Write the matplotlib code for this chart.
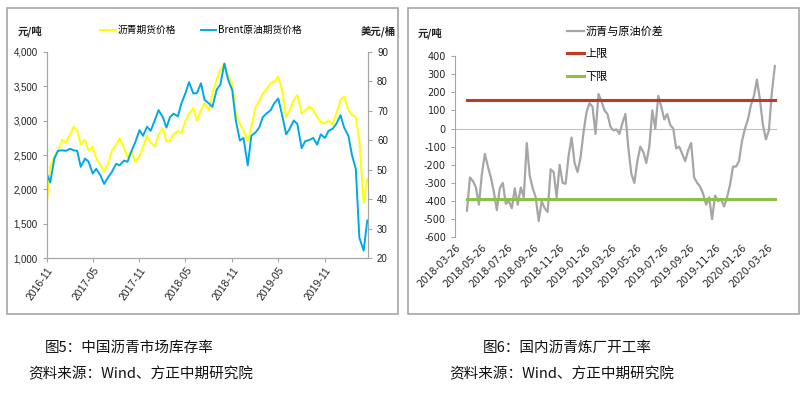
import pandas as pd
import numpy as np
import matplotlib
matplotlib.use('Agg')
import matplotlib.pyplot as plt
from matplotlib.patches import Rectangle

plt.rcParams['font.family'] = ['Noto Sans CJK SC', 'DejaVu Sans']
plt.rcParams['axes.unicode_minus'] = False

#### left chart data: semi-monthly, from 2016-11
asphalt_price = [1780, 2330, 2480, 2550, 2720, 2680, 2800, 2910, 2850, 2650,
                 2720, 2560, 2620, 2450, 2350, 2260, 2380, 2560, 2650, 2740,
                 2600, 2470, 2560, 2400, 2480, 2620, 2780, 2680, 2620, 2800,
                 2880, 2700, 2700, 2800, 2850, 2820, 3000, 3100, 3180, 3000,
                 3150, 3250, 3150, 3390, 3600, 3730, 3830, 3650, 3540, 3100,
                 2950, 2860, 2700, 2900, 3200, 3280, 3390, 3450, 3540, 3560,
                 3640, 3450, 3050, 3150, 3300, 3370, 3100, 3150, 3200, 3150,
                 3050, 2980, 2960, 3000, 2950, 3100, 3300, 3350, 3150, 3080,
                 3050, 2700, 1800, 2150]
brent_price = [48.7, 45.7, 53.8, 56.4, 56.6, 56.4, 57.1, 56.6, 56.4, 51.0,
               53.8, 52.7, 48.7, 50.3, 48.0, 45.2, 47.5, 49.2, 52.0, 51.5,
               53.1, 52.7, 56.4, 59.2, 63.4, 61.5, 64.6, 63.2, 66.9, 70.2,
               67.8, 64.3, 67.8, 69.0, 68.1, 72.5, 76.0, 79.7, 75.8, 76.0,
               79.3, 73.7, 72.5, 71.3, 77.2, 78.8, 86.0, 80.7, 76.9, 66.7,
               59.9, 60.8, 51.5, 61.5, 62.7, 64.3, 67.8, 69.0, 70.2, 72.5,
               74.1, 69.0, 62.0, 63.9, 66.7, 65.5, 57.3, 59.7, 60.1, 60.8,
               58.5, 62.0, 60.8, 63.2, 63.9, 65.5, 68.5, 64.3, 61.5, 55.0,
               50.3, 27.0, 22.6, 32.8]
left_dates = pd.date_range('2016-11-01', periods=len(asphalt_price), freq='SMS')
left_ticks = ['2016-11', '2017-05', '2017-11', '2018-05', '2018-11', '2019-05', '2019-11']

#### right chart data: weekly spread, from 2018-04-23
spread = [-453, -270, -290, -325, -420, -250, -140, -210, -270, -350,
          -450, -330, -300, -416, -400, -440, -330, -420, -325, -380,
          -80, -260, -330, -380, -510, -400, -440, -460, -225, -240,
          -380, -200, -300, -305, -150, -50, -190, -240, -160, -20,
          90, 140, 120, -30, 190,
          150, 100, 80, 10, -10, -5, -30, 30, 80, -110,
          -250, -300, -180, -100, -130, -190, -100, 100, 0, 180,
          120, 50, 80, 20, 0, -110, -100, -140, -180, -120,
          -80, -270, -300, -320, -360, -420, -380, -500, -370, -400,
          -390, -430, -380, -310, -210, -210, -180, -70, 0, 50,
          130, 180, 270, 160, 20, -60, -10, 200, 345]
spread_dates = pd.date_range('2018-04-23', periods=len(spread), freq='7D')
upper_limit = 160
lower_limit = -390
right_ticks = pd.date_range('2018-03-01', '2020-03-01', freq='2MS') + pd.Timedelta(days=25)

fig = plt.figure(figsize=(8.1, 3.94), dpi=100)

# panel frames
for x0, x1 in [(7, 398), (408, 799)]:
    fig.patches.append(Rectangle((x0 / 810, 1 - 314 / 394), (x1 - x0) / 810, (314 - 8) / 394,
                                 transform=fig.transFigure, fill=False,
                                 edgecolor='#A6A6A6', linewidth=1.2))

tick_font = dict(family='Liberation Sans', size=7)

#### left chart
ax = fig.add_axes([46.7 / 810, 1 - 258.3 / 394, (368 - 46.7) / 810, (258.3 - 51.7) / 394])
ax2 = ax.twinx()
l1, = ax.plot(left_dates, asphalt_price, color='#FFFF00', lw=1.4, label='沥青期货价格')
l2, = ax2.plot(left_dates, brent_price, color='#00A8E8', lw=1.4, label='Brent原油期货价格')
ax.set_ylim(1000, 4000)
ax.set_yticks(np.arange(1000, 4001, 500))
ax.set_yticklabels(['{:,}'.format(v) for v in range(1000, 4001, 500)], fontdict=tick_font)
ax2.set_ylim(20, 90)
ax2.set_yticks(np.arange(20, 91, 10))
ax2.set_yticklabels([str(v) for v in range(20, 91, 10)], fontdict=tick_font)
ax.set_xlim(pd.Timestamp('2016-11-01'), pd.Timestamp('2020-04-18'))
ax.set_xticks(pd.to_datetime(left_ticks))
ax.set_xticklabels(left_ticks, rotation=55, ha='right', rotation_mode='anchor',
                   family='Liberation Sans', size=7.5)
for a in (ax, ax2):
    a.spines['top'].set_visible(False)
    for s in ('left', 'right', 'bottom'):
        a.spines[s].set_color('#A6A6A6')
    a.tick_params(colors='#A6A6A6', labelcolor='#222222', length=3, width=0.8)
ax.tick_params(axis='x', pad=2)
fig.text(18 / 810, 1 - 31 / 394, '元/吨', fontsize=7.5, weight='bold', va='center', color='#222222')
fig.text(361 / 810, 1 - 31 / 394, '美元/桶', fontsize=7.5, weight='bold', va='center', color='#222222')
fig.legend(handles=[l1, l2], loc='center', bbox_to_anchor=(201 / 810, 1 - 30 / 394), ncol=2,
           frameon=False, fontsize=7, handlelength=1.6, handletextpad=0.2, columnspacing=2.5,
           borderpad=0, borderaxespad=0)

#### right chart
bx = fig.add_axes([455 / 810, 1 - 237.3 / 394, 322 / 810, 181.3 / 394])
g, = bx.plot(spread_dates, spread, color='#A6A6A6', lw=1.6, label='沥青与原油价差')
r, = bx.plot(spread_dates, [upper_limit] * len(spread), color='#C0392B', lw=2.2, label='上限')
gr, = bx.plot(spread_dates, [lower_limit] * len(spread), color='#8DC04A', lw=2.2, label='下限')
bx.axhline(0, color='#BFBFBF', lw=0.8, zorder=0)
bx.set_ylim(-600, 400)
bx.set_yticks(np.arange(-600, 401, 100))
bx.set_yticklabels([str(v) for v in range(-600, 401, 100)], family='DejaVu Sans', size=7)
bx.set_xlim(pd.Timestamp('2018-03-26'), pd.Timestamp('2020-04-18'))
bx.set_xticks(right_ticks)
bx.set_xticklabels([d.strftime('%Y-%m-%d') for d in right_ticks], rotation=45, ha='right',
                   rotation_mode='anchor', family='DejaVu Sans', size=7)
for s in ('top', 'right', 'bottom'):
    bx.spines[s].set_visible(False)
bx.spines['left'].set_color('#A6A6A6')
bx.tick_params(axis='y', colors='#A6A6A6', labelcolor='#222222', length=3, width=0.8)
bx.tick_params(axis='x', length=0, labelcolor='#222222', pad=4)
fig.text(418 / 810, 1 - 33 / 394, '元/吨', fontsize=7.5, weight='bold', va='center', color='#222222')
fig.legend(handles=[g, r, gr], loc='upper left', bbox_to_anchor=(567 / 810, 1 - 26 / 394),
           frameon=False, fontsize=8, handlelength=1.5, handletextpad=0.2, labelspacing=1.15,
           borderpad=0, borderaxespad=0)

#### captions
fig.text(45 / 810, 1 - 348 / 394, '图5：中国沥青市场库存率', fontsize=10.5, va='center', color='#111111')
fig.text(28 / 810, 1 - 374 / 394, '资料来源：Wind、方正中期研究院', fontsize=10.5, va='center', color='#111111')
fig.text(483 / 810, 1 - 348 / 394, '图6：国内沥青炼厂开工率', fontsize=10.5, va='center', color='#111111')
fig.text(449 / 810, 1 - 374 / 394, '资料来源：Wind、方正中期研究院', fontsize=10.5, va='center', color='#111111')

fig.savefig('out.png', dpi=100)
